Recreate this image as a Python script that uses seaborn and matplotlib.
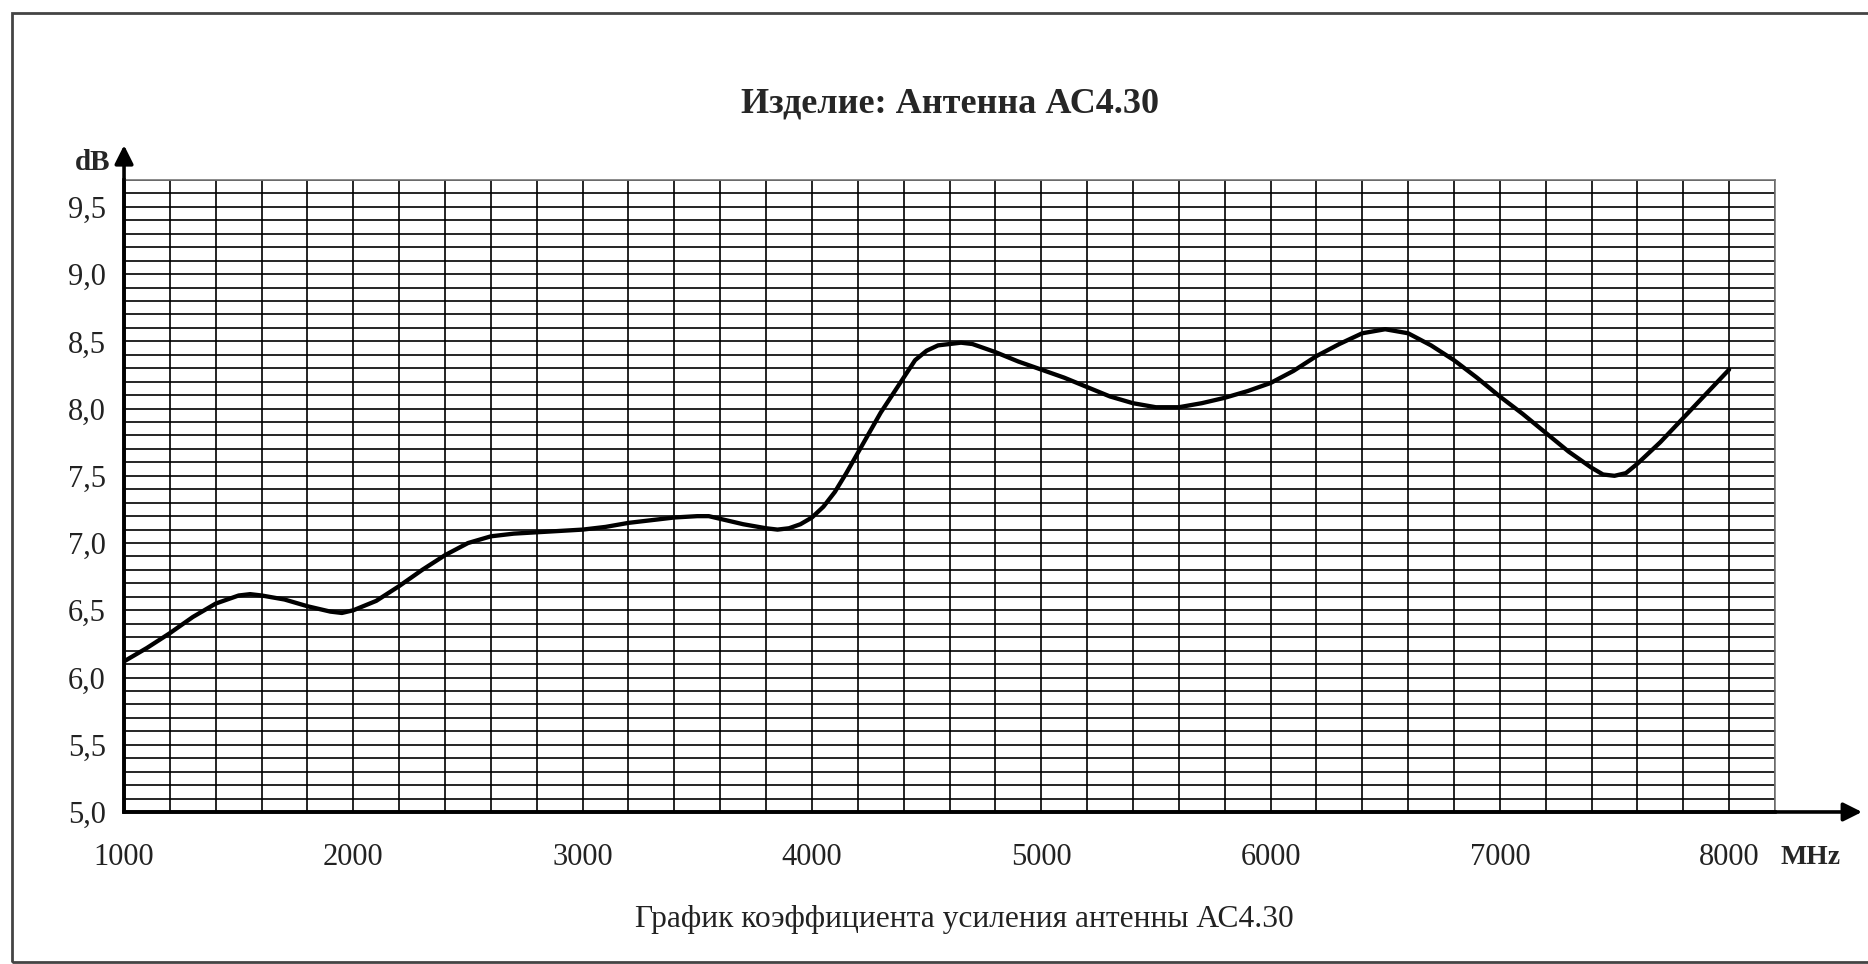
import matplotlib
matplotlib.use("Agg")
import matplotlib.pyplot as plt
import seaborn as sns
import pandas as pd
import numpy as np
from matplotlib.patches import Rectangle

# значения (МГц / дБ)
freq_mhz = [1000, 1100, 1200, 1300, 1400, 1500, 1550, 1600, 1700, 1800,
            1900, 1950, 2000, 2100, 2200, 2300, 2400, 2500, 2600, 2700,
            2800, 2900, 3000, 3100, 3200, 3300, 3400, 3500, 3550, 3600,
            3700, 3800, 3850, 3900, 3950, 4000, 4050, 4100, 4150, 4200,
            4250, 4300, 4350, 4400, 4450, 4500, 4550, 4600, 4650, 4700,
            4800, 4900, 5000, 5100, 5200, 5300, 5400, 5500, 5600, 5700,
            5800, 5900, 6000, 6100, 6200, 6300, 6400, 6500, 6600, 6700,
            6800, 6900, 7000, 7100, 7200, 7300, 7400, 7450, 7500, 7550,
            7600, 7700, 7800, 7900, 8000]
gain_db = [6.12, 6.22, 6.33, 6.45, 6.55, 6.61, 6.62, 6.61, 6.58, 6.53,
           6.49, 6.48, 6.50, 6.57, 6.68, 6.80, 6.91, 7.00, 7.05, 7.07,
           7.08, 7.09, 7.10, 7.12, 7.15, 7.17, 7.19, 7.20, 7.20, 7.18,
           7.14, 7.11, 7.10, 7.11, 7.14, 7.19, 7.27, 7.38, 7.52, 7.67,
           7.82, 7.97, 8.10, 8.23, 8.36, 8.43, 8.47, 8.48, 8.49, 8.48,
           8.42, 8.35, 8.29, 8.23, 8.16, 8.09, 8.04, 8.01, 8.01, 8.04,
           8.08, 8.13, 8.19, 8.28, 8.39, 8.48, 8.56, 8.59, 8.56, 8.47,
           8.36, 8.23, 8.09, 7.96, 7.82, 7.68, 7.56, 7.51, 7.50, 7.52,
           7.59, 7.75, 7.93, 8.11, 8.29]

x_ticks = [1000, 2000, 3000, 4000, 5000, 6000, 7000, 8000]
y_ticks = [5.0, 5.5, 6.0, 6.5, 7.0, 7.5, 8.0, 8.5, 9.0, 9.5]
y_tick_labels = ["5,0", "5,5", "6,0", "6,5", "7,0", "7,5", "8,0", "8,5", "9,0", "9,5"]

title = "Изделие: Антенна АС4.30"
caption = "График коэффициента усиления антенны АС4.30"

sns.set_style("white")
plt.rcParams['font.family'] = ['Liberation Serif', 'DejaVu Serif']

fig = plt.figure(figsize=(18.68, 9.64), dpi=100)
ax = fig.add_axes([0.0664, 0.1577, 0.8838, 0.6556])

df = pd.DataFrame({'freq': freq_mhz, 'gain': gain_db})
sns.lineplot(data=df, x='freq', y='gain', ax=ax, color='black', lw=3.1,
             zorder=5, solid_capstyle='round', solid_joinstyle='round')

ax.set_xlim(1000, 8200)
ax.set_ylim(5.0, 9.7)
ax.set_xlabel('')
ax.set_ylabel('')

# сетка миллиметровки
ax.set_xticks(np.arange(1000, 8201, 200), minor=True)
ax.set_yticks(np.arange(5.0, 9.71, 0.1), minor=True)
ax.set_xticks(x_ticks)
ax.set_yticks(y_ticks)
ax.set_yticklabels(y_tick_labels)
ax.grid(which='both', color='black', lw=1.2)
ax.tick_params(which='minor', length=0)
ax.tick_params(which='major', direction='inout', length=14, width=2,
               labelsize=22, colors='black')
ax.tick_params(axis='x', pad=15)
ax.tick_params(axis='y', pad=6)
for lab in ax.get_xticklabels() + ax.get_yticklabels():
    lab.set_color('#222222')

for side in ['left', 'bottom']:
    ax.spines[side].set_color('black')
    ax.spines[side].set_linewidth(2.6)
for side in ['top', 'right']:
    ax.spines[side].set_color('#777777')
    ax.spines[side].set_linewidth(1.2)

# стрелки осей
ax.annotate('', xy=(0, 1.055), xytext=(0, 0), xycoords='axes fraction',
            arrowprops=dict(arrowstyle='-|>', lw=2.6, color='black',
                            mutation_scale=28, shrinkA=0, shrinkB=0))
ax.annotate('', xy=(1.0527, 0), xytext=(0, 0), xycoords='axes fraction',
            arrowprops=dict(arrowstyle='-|>', lw=2.6, color='black',
                            mutation_scale=28, shrinkA=0, shrinkB=0))

fig.text(0.5086, 1 - 104 / 964, title, ha='center', va='center',
         fontsize=26, fontweight='bold')
fig.text(93 / 1868, 1 - 162 / 964, 'dB', ha='center', va='center',
         fontsize=21, fontweight='bold')
fig.text(1811 / 1868, 1 - 857 / 964, 'MHz', ha='center', va='center',
         fontsize=20, fontweight='bold')
fig.text(964 / 1868, 1 - 920 / 964, caption, ha='center', va='center',
         fontsize=22.7, color='#222222')

# рамка вокруг рисунка
fig.add_artist(Rectangle((12 / 1868, 2 / 964), 1.2, 0.9845,
                         transform=fig.transFigure, fill=False,
                         lw=2, edgecolor='#444444'))

fig.savefig('out.png', dpi=100)
